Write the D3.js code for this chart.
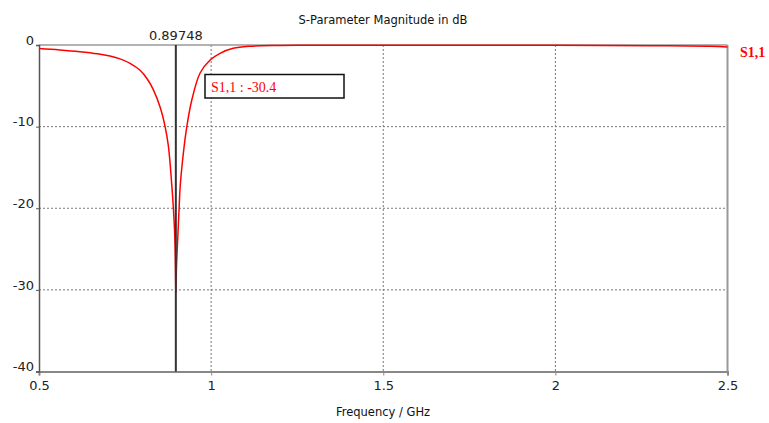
<!DOCTYPE html>
<html>
<head>
<meta charset="utf-8">
<script src="https://cdn.jsdelivr.net/npm/d3@7"></script>
<style>
  body { margin: 0; background: #fff; }
  svg text { font-family: "DejaVu Sans", Verdana, sans-serif; }
</style>
</head>
<body>
<div id="chart"></div>
<script>
// S1,1 magnitude (GHz, dB)
var freqs = [0.5, 0.56, 0.619, 0.67, 0.706, 0.7355, 0.7645, 0.7936, 0.815, 0.8323, 0.8517, 0.8663, 0.8759, 0.8858, 0.8904,
  0.8945, 0.8965, 0.89748, 0.8995, 0.9032, 0.907, 0.910, 0.9195, 0.9294, 0.9439, 0.968, 0.9971,
  1.026, 1.064, 1.113, 1.2, 1.25, 1.5, 2.0, 2.28, 2.45, 2.5];
var s11 = [-0.43, -0.6, -0.82, -1.08, -1.35, -1.7, -2.25, -3.1, -4.2, -5.5, -7.6, -10.0, -12.4, -17.2, -20,
  -23.5, -27.5, -30.4, -27, -23.5, -20, -17.4, -13.2, -10, -6.74, -3.43, -1.84,
  -1.02, -0.41, -0.15, -0.05, -0.02, -0.02, -0.03, -0.08, -0.15, -0.25];

var xTicks = [0.5, 1, 1.5, 2, 2.5];
var yTicks = [0, -10, -20, -30, -40];
var markerFreq = 0.89748;
var markerVal = -30.4;

var svgWidth = 769, svgHeight = 423;
var margin = { top: 45, right: 41.5, bottom: 51.5, left: 39 };
var width = svgWidth - margin.left - margin.right;
var height = svgHeight - margin.top - margin.bottom;

var svg = d3.select("#chart").append("svg")
  .attr("width", svgWidth)
  .attr("height", svgHeight);

var g = svg.append("g")
  .attr("transform", `translate(${margin.left}, ${margin.top})`);

var x = d3.scaleLinear().domain([0.5, 2.5]).range([0, width]);
var y = d3.scaleLinear().domain([-40, 0]).range([height, 0]);

// plain hyphen like the original, not the unicode minus
var fmt = d => String(d);

// grid
g.selectAll(".vgrid").data(xTicks.slice(1, -1)).enter().append("line")
  .attr("x1", d => x(d)).attr("x2", d => x(d))
  .attr("y1", 0).attr("y2", height)
  .attr("stroke", "#777").attr("stroke-dasharray", "2,2");
g.selectAll(".hgrid").data(yTicks.slice(1, -1)).enter().append("line")
  .attr("x1", 0).attr("x2", width)
  .attr("y1", d => y(d)).attr("y2", d => y(d))
  .attr("stroke", "#777").attr("stroke-dasharray", "2,2");

// frame
g.append("line").attr("x1", 0).attr("x2", width).attr("y1", 0).attr("y2", 0)
  .attr("stroke", "#999").attr("stroke-width", 1.5);
g.append("line").attr("x1", width).attr("x2", width).attr("y1", 0).attr("y2", height)
  .attr("stroke", "#999").attr("stroke-width", 2);

// axes
var bottomAxis = d3.axisBottom(x).tickValues(xTicks).tickSize(4).tickFormat(fmt);
var leftAxis = d3.axisLeft(y).tickValues(yTicks).tickSize(3).tickFormat(fmt);

var xAxis = g.append("g")
  .attr("transform", `translate(0, ${height})`)
  .call(bottomAxis);
xAxis.select(".domain").attr("stroke", "#888").attr("stroke-width", 2);
xAxis.selectAll(".tick line").attr("stroke", "#888");
xAxis.selectAll("text").attr("font-size", 13).attr("fill", "#222").attr("dy", "0.9em");

var yAxis = g.append("g").call(leftAxis);
yAxis.select(".domain").attr("stroke", "#555").attr("stroke-width", 1.5);
yAxis.selectAll(".tick line").attr("stroke", "#555");
yAxis.selectAll("text").attr("font-size", 13).attr("fill", "#222").attr("dy", "-0.05em").attr("x", -5);

// curve
var line = d3.line()
  .x((d, i) => x(freqs[i]))
  .y(d => y(d))
  .curve(d3.curveCatmullRom.alpha(0.5));

g.append("path")
  .datum(s11)
  .attr("fill", "none")
  .attr("stroke", "#ff0000")
  .attr("stroke-width", 1.5)
  .attr("d", line);

// marker
g.append("line")
  .attr("x1", x(markerFreq)).attr("x2", x(markerFreq))
  .attr("y1", 0).attr("y2", height)
  .attr("stroke", "#333").attr("stroke-width", 2);
g.append("text")
  .attr("x", x(markerFreq)).attr("y", -5)
  .attr("text-anchor", "middle")
  .attr("font-size", 13).attr("fill", "#222")
  .text(markerFreq);

// marker annotation box
g.append("rect")
  .attr("x", 166).attr("y", 29.5)
  .attr("width", 139).attr("height", 23.5)
  .attr("fill", "#fff").attr("stroke", "#111").attr("stroke-width", 1.5);
g.append("text")
  .attr("x", 172).attr("y", 46.5)
  .attr("font-size", 14)
  .style("font-family", "'Liberation Serif', serif")
  .attr("fill", "#ff0000")
  .text("S1,1 : " + markerVal);

// legend
svg.append("text")
  .attr("x", 740).attr("y", 57)
  .attr("font-size", 14)
  .attr("font-weight", "bold")
  .style("font-family", "'Liberation Serif', serif")
  .attr("fill", "#ff0000")
  .text("S1,1");

// titles
svg.append("text")
  .attr("x", 383).attr("y", 24)
  .attr("text-anchor", "middle")
  .attr("font-size", 11.5).attr("fill", "#111")
  .text("S-Parameter Magnitude in dB");
svg.append("text")
  .attr("x", 383).attr("y", 416)
  .attr("text-anchor", "middle")
  .attr("font-size", 11.5).attr("fill", "#111")
  .text("Frequency / GHz");
</script>
</body>
</html>
